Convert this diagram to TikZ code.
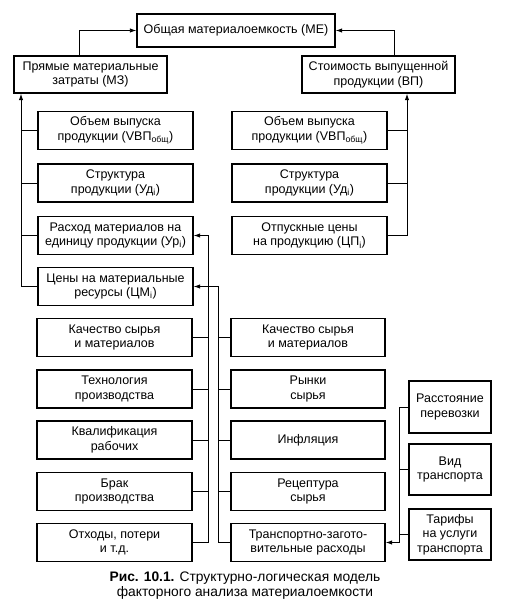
\documentclass[tikz,border=0pt]{standalone}
\usepackage{fontspec}
\setmainfont{Liberation Sans}
\usetikzlibrary{arrows.meta}
\tikzset{>={Latex[length=6.5pt,width=4.5pt]}}
\tikzset{
  factor/.style={draw, line width=1.4pt, align=center, inner sep=2pt,
    minimum width=155pt, minimum height=38pt, font=\fontsize{12.5}{14.5}\selectfont},
  link/.style={line width=0.9pt}
}
\begin{document}
\begin{tikzpicture}[x=1pt, y=-1pt]
\useasboundingbox (0,0) rectangle (510,605);
\node[factor, minimum width=198pt, minimum height=33pt] (me) at (236,30.5) {Общая материалоемкость (МЕ)};
\node[factor, minimum width=153pt, minimum height=37pt] (mz) at (90.5,74.5) {Прямые материальные\\затраты (МЗ)};
\node[factor, minimum width=153pt, minimum height=37pt] (vp) at (378.5,74.5) {Стоимость выпущенной\\продукции (ВП)};

\node[factor] (l1) at (115.5,130.5) {Объем выпуска\\продукции (VВП\textsubscript{общ})};
\node[factor] (l2) at (115.5,183) {Структура\\продукции (Уд\textsubscript{i})};
\node[factor] (l3) at (115.5,235.5) {Расход материалов на\\единицу продукции (Ур\textsubscript{i})};
\node[factor] (l4) at (115.5,286.5) {Цены на материальные\\ресурсы (ЦМ\textsubscript{i})};

\node[factor] (r1) at (309.5,130.5) {Объем выпуска\\продукции (VВП\textsubscript{общ})};
\node[factor] (r2) at (309.5,183) {Структура\\продукции (Уд\textsubscript{i})};
\node[factor] (r3) at (309.5,235.5) {Отпускные цены\\на продукцию (ЦП\textsubscript{i})};

\node[factor] (l5) at (114.5,337.5) {Качество сырья\\и материалов};
\node[factor] (l6) at (114.5,389) {Технология\\производства};
\node[factor] (l7) at (114.5,440) {Квалификация\\рабочих};
\node[factor] (l8) at (114.5,491.5) {Брак\\производства};
\node[factor] (l9) at (114.5,542.5) {Отходы, потери\\и т.д.};

\node[factor, minimum width=154pt] (m5) at (308,337.5) {Качество сырья\\и материалов};
\node[factor, minimum width=154pt] (m6) at (308,389) {Рынки\\сырья};
\node[factor, minimum width=154pt] (m7) at (308,440) {Инфляция};
\node[factor, minimum width=154pt] (m8) at (308,491.5) {Рецептура\\сырья};
\node[factor, minimum width=154pt] (m9) at (308,542.5) {Транспортно-загото-\\вительные расходы};

\node[factor, minimum width=82pt, minimum height=52pt] (f1) at (450,407) {Расстояние\\перевозки};
\node[factor, minimum width=82pt, minimum height=51pt] (f2) at (450,469.5) {Вид\\транспорта};
\node[factor, minimum width=82pt, minimum height=51pt] (f3) at (450,534.5) {Тарифы\\на услуги\\транспорта};

\node[align=center, font=\fontsize{13.8}{15}\selectfont] (caption) at (245,585.5)
  {\textbf{Рис. 10.1.} Структурно-логическая модель\\факторного анализа материалоемкости};

\coordinate (lbus) at (21,0);
\coordinate (rbus) at (407,0);
\coordinate (cbus) at (208,0);
\coordinate (mbus) at (218,0);
\coordinate (fbus) at (399,0);

\draw[link,->] ([xshift=-11.5pt]mz.north) |- (me.west);
\draw[link,->] ([xshift=15.5pt]vp.north) |- (me.east);
\draw[link,->] (l4.west) -| (lbus |- mz.south);
\foreach \n in {l1,l2,l3} \draw[link] (\n.west) -- (\n.west -| lbus);
\draw[link,->] (r3.east) -| (rbus |- vp.south);
\foreach \n in {r1,r2} \draw[link] (\n.east) -- (\n.east -| rbus);
\draw[link,->] (l9.east) -| (cbus |- l3.east) -- (l3.east);
\foreach \n in {l5,l6,l7,l8} \draw[link] (\n.east) -- (\n.east -| cbus);
\draw[link,->] (m9.west) -| (mbus |- l4.east) -- (l4.east);
\foreach \n in {m5,m6,m7,m8} \draw[link] (\n.west) -- (\n.west -| mbus);
\draw[link,->] (f1.west) -| (fbus |- m9.east) -- (m9.east);
\foreach \n in {f2,f3} \draw[link] (\n.west) -- (\n.west -| fbus);
\end{tikzpicture}
\end{document}
